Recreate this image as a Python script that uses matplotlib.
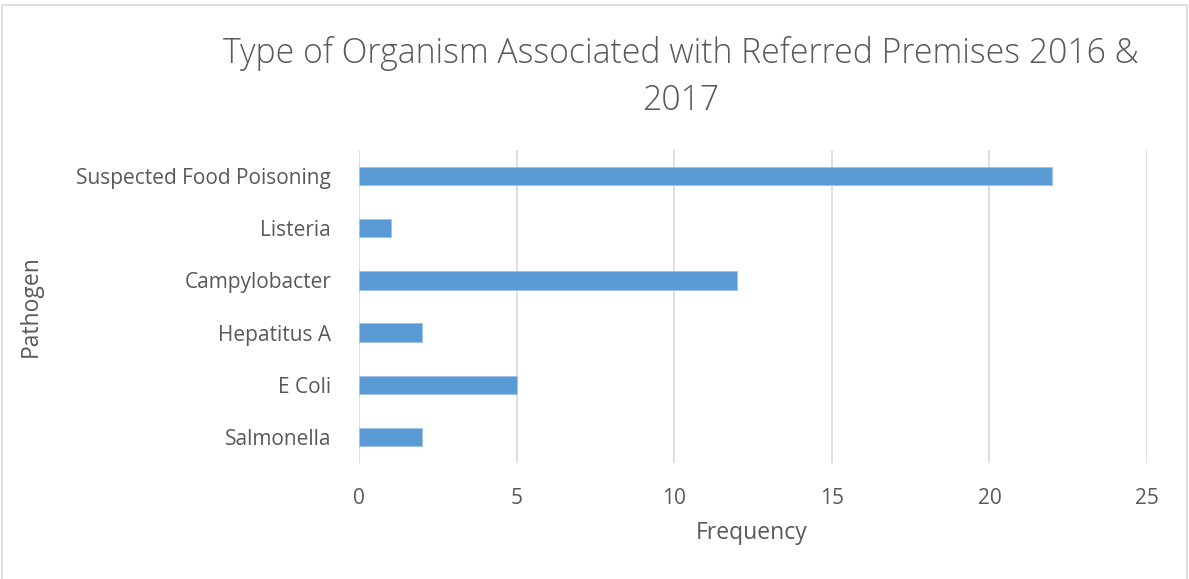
import matplotlib.pyplot as plt
from matplotlib.patches import Rectangle

pathogens = ["Salmonella", "E Coli", "Hepatitus A", "Campylobacter", "Listeria", "Suspected Food Poisoning"]
frequency = [2, 5, 2, 12, 1, 22]
x_ticks = [0, 5, 10, 15, 20, 25]

text_color = "#595959"
bar_color = "#5B9BD5"
grid_color = "#D9D9D9"

plt.rcParams["font.family"] = ["Open Sans", "DejaVu Sans"]

W, H = 1189, 579
fig = plt.figure(figsize=(11.89, 5.79), dpi=100)
ax = fig.add_axes([359 / W, 1 - 463 / H, (1147 - 359) / W, (463 - 150) / H])

ax.barh(range(len(pathogens)), frequency, height=0.35, color=bar_color,
        edgecolor="#9DC3E6", linewidth=0.6, zorder=3)

ax.set_xlim(0, 25)
ax.set_ylim(-0.5, len(pathogens) - 0.5)
ax.set_xticks(x_ticks)
ax.set_yticks(range(len(pathogens)))
ax.set_yticklabels(pathogens)
ax.tick_params(axis="both", length=0, labelsize=15, labelcolor=text_color)
ax.tick_params(axis="x", pad=18)
ax.tick_params(axis="y", pad=20)
ax.grid(axis="x", color=grid_color, linewidth=1.2, zorder=0)
for s in ax.spines.values():
    s.set_visible(False)

ax.set_xlabel("Frequency", fontsize=16.5, color=text_color)
ax.set_ylabel("Pathogen", fontsize=16.5, color=text_color)
ax.xaxis.set_label_coords((752 - 359) / (1147 - 359), -(533 - 463) / (463 - 150))
ax.yaxis.set_label_coords(-(359 - 31) / (1147 - 359), 0.5)
ax.xaxis.label.set_va("center")
ax.yaxis.label.set_va("center")

fig.text(681 / W, 1 - 77 / H, "Type of Organism Associated with Referred Premises 2016 &\n2017",
         ha="center", va="center", fontsize=24.3, color=text_color, fontweight="light",
         linespacing=1.45)

fig.patches.append(Rectangle((2 / W, -0.01), 1185 / W, 1 - 5 / H + 0.01,
                             transform=fig.transFigure, fill=False,
                             edgecolor="#D9D9D9", linewidth=1.2))

fig.savefig("out.png", dpi=100)
